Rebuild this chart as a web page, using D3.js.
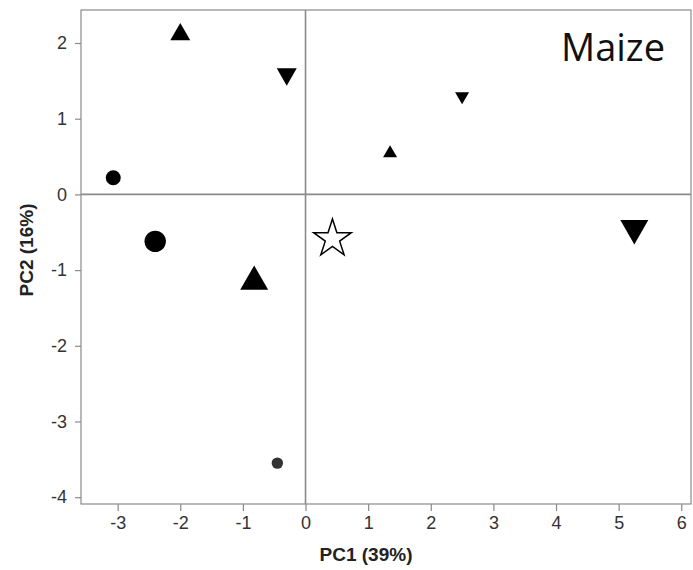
<!DOCTYPE html>
<html>
<head>
<meta charset="utf-8">
<script src="https://cdn.jsdelivr.net/npm/d3@7"></script>
<style>
  body { margin: 0; background: #fff; }
  svg text { font-family: "Liberation Sans", Arial, sans-serif; }
</style>
</head>
<body>
<div id="chart"></div>
<script>
// PCA scores
var pc1 = [-3.07, -2.40, -0.45, -2.00, -0.82, 1.35, -0.30, 2.50, 5.25, 0.43]
var pc2 = [0.22, -0.62, -3.55, 2.15, -1.10, 0.57, 1.55, 1.27, -0.50, -0.56]
var shapes = ['circle', 'circle', 'circle', 'up', 'up', 'up', 'down', 'down', 'down', 'star']
var levels = ['mid', 'large', 'small', 'mid', 'large', 'small', 'mid', 'small', 'large', 'mid']

var xTicks = [-3, -2, -1, 0, 1, 2, 3, 4, 5, 6]
var yTicks = [2, 1, 0, -1, -2, -3, -4]
var xDomain = [-3.585, 6.155]
var yDomain = [-4.09, 2.436]

var width = 693
var height = 570
var margin = { top: 10, right: 2, bottom: 66, left: 81 }

var svg = d3.select('#chart').append('svg')
    .attr('width', width)
    .attr('height', height)

var x = d3.scaleLinear().domain(xDomain).range([margin.left, width - margin.right])
var y = d3.scaleLinear().domain(yDomain).range([height - margin.bottom, margin.top])

var grey = '#8a8a8a'

// zero lines
svg.append('line')
    .attr('x1', x(0)).attr('x2', x(0))
    .attr('y1', y.range()[1]).attr('y2', y.range()[0])
    .attr('stroke', grey).attr('stroke-width', 1.6)
svg.append('line')
    .attr('x1', x.range()[0]).attr('x2', x.range()[1])
    .attr('y1', y(0)).attr('y2', y(0))
    .attr('stroke', grey).attr('stroke-width', 1.6)

// frame
svg.append('rect')
    .attr('x', x.range()[0]).attr('y', y.range()[1])
    .attr('width', x.range()[1] - x.range()[0])
    .attr('height', y.range()[0] - y.range()[1])
    .attr('fill', 'none')
    .attr('stroke', grey).attr('stroke-width', 1.2)

var xAxis = svg.append('g')
    .attr('transform', 'translate(0,' + y.range()[0] + ')')
    .call(d3.axisBottom(x).tickValues(xTicks).tickSize(7).tickPadding(5).tickSizeOuter(0))
var yAxis = svg.append('g')
    .attr('transform', 'translate(' + x.range()[0] + ',0)')
    .call(d3.axisLeft(y).tickValues(yTicks).tickSize(6).tickPadding(8).tickSizeOuter(0))

;[xAxis, yAxis].forEach(function (g) {
  g.select('.domain').remove()
  g.selectAll('.tick line').attr('stroke', grey).attr('stroke-width', 1.2)
  g.selectAll('.tick text')
      .attr('fill', '#333')
      .style('font-size', '18px')
      .text(function (d) { return d < 0 ? '-' + Math.abs(d) : d })
})

// axis titles
svg.append('text')
    .attr('x', x.range()[0] + (x.range()[1] - x.range()[0]) / 2 - 20)
    .attr('y', 561)
    .attr('text-anchor', 'middle')
    .attr('font-weight', 'bold')
    .attr('fill', '#222')
    .style('font-size', '19px')
    .text('PC1 (39%)')

svg.append('text')
    .attr('transform', 'translate(33,' + 250 + ') rotate(-90)')
    .attr('text-anchor', 'middle')
    .attr('font-weight', 'bold')
    .attr('fill', '#222')
    .style('font-size', '19px')
    .text('PC2 (16%)')

svg.append('text')
    .attr('x', 665)
    .attr('y', 61)
    .attr('text-anchor', 'end')
    .attr('fill', '#111')
    .style('font-family', '"Open Sans", "Noto Sans", sans-serif')
    .style('font-size', '38px')
    .text('Maize')

// markers
var circleR = { small: 5.7, mid: 7.5, large: 10.7 }
var triW = { small: 14, mid: 20, large: 28 }

function triPath(w, dir) {
  var h = w * 0.87
  if (dir === 'up') {
    return 'M0,' + (-h / 2) + 'L' + (w / 2) + ',' + (h / 2) + 'L' + (-w / 2) + ',' + (h / 2) + 'Z'
  }
  return 'M0,' + (h / 2) + 'L' + (w / 2) + ',' + (-h / 2) + 'L' + (-w / 2) + ',' + (-h / 2) + 'Z'
}

var points = pc1.map(function (d, i) {
  return { pc1: d, pc2: pc2[i], shape: shapes[i], level: levels[i] }
})

var marks = svg.append('g').selectAll('g.pt')
    .data(points)
    .enter()
    .append('g')
    .attr('class', 'pt')
    .attr('transform', function (d) { return 'translate(' + x(d.pc1) + ',' + y(d.pc2) + ')' })

marks.each(function (d) {
  var g = d3.select(this)
  if (d.shape === 'circle') {
    g.append('circle')
        .attr('r', circleR[d.level])
        .attr('fill', d.level === 'small' ? '#333' : '#000')
  } else if (d.shape === 'star') {
    g.append('path')
        .attr('d', d3.symbol().type(d3.symbolStar).size(440)())
        .attr('transform', 'translate(0,2)')
        .attr('fill', '#fff')
        .attr('stroke', '#000')
        .attr('stroke-width', 1.5)
  } else {
    g.append('path')
        .attr('d', triPath(triW[d.level], d.shape))
        .attr('fill', '#000')
  }
})
</script>
</body>
</html>
